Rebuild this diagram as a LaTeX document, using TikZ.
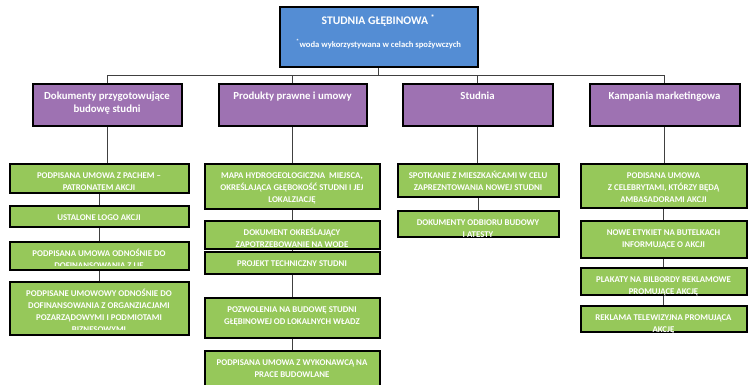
\documentclass[tikz,border=0pt]{standalone}
\usepackage{fontspec}
\setmainfont{Carlito}
\definecolor{topblue}{RGB}{84,141,212}
\definecolor{lpurple}{RGB}{158,114,178}
\definecolor{lgreen}{RGB}{150,200,90}
\definecolor{conn}{RGB}{64,64,64}
\newcommand\fstrut{\rule{0pt}{8.5pt}}
\newcommand\pstrut{\rule{0pt}{10pt}}
\tikzset{
  bx/.style={draw=black, line width=2pt, inner sep=0pt},
  topbox/.style={bx, fill=topblue},
  pbox/.style={bx, fill=lpurple, minimum height=42, minimum width=149},
  gbox/.style={bx, fill=lgreen},
  gtext/.style={anchor=north, inner sep=0pt, align=center, text=white,
    font=\fontsize{8.8}{11.9}\selectfont\bfseries},
  ptext/.style={anchor=north, inner sep=0pt, align=center, text=white,
    font=\fontsize{10.8}{13}\selectfont\bfseries},
  cn/.style={draw=conn, line width=0.9pt},
}
\begin{document}
\begin{tikzpicture}[x=1pt,y=-1pt]
\useasboundingbox (0,0) rectangle (749,385);
% top
\node[topbox, minimum width=198, minimum height=60] (top) at (378.5,37.5) {};
\node[anchor=north, inner sep=0pt, text=white, font=\fontsize{11.6}{13}\selectfont\bfseries] (toptitle) at ([yshift=-8pt]top.north) {\rule{0pt}{8.5pt}STUDNIA GŁĘBINOWA \textsuperscript{*}};
\node[anchor=north, inner sep=0pt, text=white, font=\fontsize{8.6}{10}\selectfont\bfseries] (topsub) at ([yshift=-32pt]top.north) {\fstrut\textsuperscript{*}woda wykorzystywana w celach spożywczych};
% purple
\node[pbox] (p1) at (107,105.5) {};
\node[pbox, minimum width=148] (p2) at (292.5,105.5) {};
\node[pbox, minimum width=150] (p3) at (477.5,105.5) {};
\node[pbox, minimum width=150] (p4) at (664.5,105.5) {};
\node[ptext] (pt1) at ([yshift=-6pt]p1.north) {\pstrut Dokumenty przygotowujące\\budowę studni};
\node[ptext] (pt2) at ([yshift=-6pt]p2.north) {\pstrut Produkty prawne i umowy};
\node[ptext] (pt3) at ([yshift=-6pt]p3.north) {\pstrut Studnia};
\node[ptext] (pt4) at ([yshift=-6pt]p4.north) {\pstrut Kampania marketingowa};
% bus
\coordinate (bus) at (0,75);
\draw[cn] (top.south) -- (top.south |- bus);
\draw[cn] (p1.north) -- (p1.north |- bus) -- (p4.north |- bus) -- (p4.north);
\draw[cn] (p2.north) -- (p2.north |- bus);
\draw[cn] (p3.north) -- (p3.north |- bus);
% column 1
\node[gbox, minimum width=179, minimum height=29] (g11) at (99,178) {};
\node[gbox, minimum width=179, minimum height=21] (g12) at (99,216) {};
\node[gbox, minimum width=179, minimum height=28] (g13) at (99,255.5) {};
\node[gbox, minimum width=179, minimum height=53] (g14) at (99,308) {};
% column 2
\node[gbox, minimum width=175, minimum height=45] (g21) at (292,186) {};
\node[gbox, minimum width=175, minimum height=28] (g22) at (292,234.5) {};
\node[gbox, minimum width=175, minimum height=22] (g23) at (292,262.5) {};
\node[gbox, minimum width=175, minimum height=40] (g24) at (292,317.5) {};
\node[gbox, minimum width=175, minimum height=44] (g25) at (292,373) {};
% column 3
\node[gbox, minimum width=161, minimum height=33] (g31) at (478,180) {};
\node[gbox, minimum width=161, minimum height=26] (g32) at (478,223.5) {};
% column 4
\node[gbox, minimum width=166, minimum height=44] (g41) at (663.5,185.5) {};
\node[gbox, minimum width=166, minimum height=37] (g42) at (663.5,239) {};
\node[gbox, minimum width=166, minimum height=27] (g43) at (663.5,281) {};
\node[gbox, minimum width=166, minimum height=26] (g44) at (663.5,318.5) {};
% connectors
\draw[cn] (p1.south) -- (p1.south |- g11.north);
\draw[cn] (g11.south) -- (g12.north);
\draw[cn] (g12.south) -- (g13.north);
\draw[cn] (g13.south) -- (g14.north);
\draw[cn] (p2.south) -- (p2.south |- g21.north);
\draw[cn] (g21.south) -- (g22.north);
\draw[cn] (g22.south) -- (g23.north);
\draw[cn] (g23.south) -- (g24.north);
\draw[cn] (g24.south) -- (g25.north);
\draw[cn] (p3.south) -- (p3.south |- g31.north);
\draw[cn] (g31.south) -- (g32.north);
\draw[cn] (p4.south) -- (p4.south |- g41.north);
\draw[cn] (g41.south) -- (g42.north);
\draw[cn] (g42.south) -- (g43.north);
\draw[cn] (g43.south) -- (g44.north);
% texts
\node[gtext] (t11) at ([yshift=-7.2pt]g11.north) {\fstrut PODPISANA UMOWA Z PACHEM –\\PATRONATEM AKCJI};
\node[gtext] (t12) at ([yshift=-7.2pt]g12.north) {\fstrut USTALONE LOGO AKCJI};
\begin{scope}
\clip ([yshift=5.5pt]g13.south west) rectangle (g13.north east);
\node[gtext] (t13) at ([yshift=-7.2pt]g13.north) {\fstrut PODPISANA UMOWA ODNOŚNIE DO\\DOFINANSOWANIA Z UE};
\end{scope}
\begin{scope}
\clip ([yshift=6.5pt]g14.south west) rectangle (g14.north east);
\node[gtext] (t14) at ([yshift=-7.2pt]g14.north) {\fstrut PODPISANE UMOWOWY ODNOŚNIE DO\\DOFINANSOWANIA Z ORGANZIACJAMI\\POZARZĄDOWYMI I PODMIOTAMI\\BIZNESOWYMI};
\end{scope}
\node[gtext] (t21) at ([yshift=-7.2pt]g21.north) {\fstrut MAPA HYDROGEOLOGICZNA \ MIEJSCA,\\OKREŚLAJĄCA GŁĘBOKOŚĆ STUDNI I JEJ\\LOKALZIACJĘ};
\node[gtext] (t22) at ([yshift=-7.2pt]g22.north) {\fstrut DOKUMENT OKREŚLAJĄCY\\ZAPOTRZEBOWANIE NA WODE};
\node[gtext] (t23) at ([yshift=-7.2pt]g23.north) {\fstrut PROJEKT TECHNICZNY STUDNI};
\node[gtext] (t24) at ([yshift=-7.2pt]g24.north) {\fstrut POZWOLENIA NA BUDOWĘ STUDNI\\GŁĘBINOWEJ OD LOKALNYCH WŁADZ};
\node[gtext] (t25) at ([yshift=-7.2pt]g25.north) {\fstrut PODPISANA UMOWA Z WYKONAWCĄ NA\\PRACE BUDOWLANE};
\node[gtext] (t31) at ([yshift=-7.2pt]g31.north) {\fstrut SPOTKANIE Z MIESZKAŃCAMI W CELU\\ZAPREZNTOWANIA NOWEJ STUDNI};
\node[gtext] (t32) at ([yshift=-7.2pt]g32.north) {\fstrut DOKUMENTY ODBIORU BUDOWY\\I ATESTY};
\node[gtext] (t41) at ([yshift=-7.2pt]g41.north) {\fstrut PODISANA UMOWA\\Z CELEBRYTAMI, KTÓRZY BĘDĄ\\AMBASADORAMI AKCJI};
\node[gtext] (t42) at ([yshift=-7.2pt]g42.north) {\fstrut NOWE ETYKIET NA BUTELKACH\\INFORMUJĄCE O AKCJI};
\node[gtext] (t43) at ([yshift=-7.2pt]g43.north) {\fstrut PLAKATY NA BILBORDY REKLAMOWE\\PROMUJĄCE AKCJĘ};
\node[gtext] (t44) at ([yshift=-7.2pt]g44.north) {\fstrut REKLAMA TELEWIZYJNA PROMUJĄCA\\AKCJĘ};
\end{tikzpicture}
\end{document}
